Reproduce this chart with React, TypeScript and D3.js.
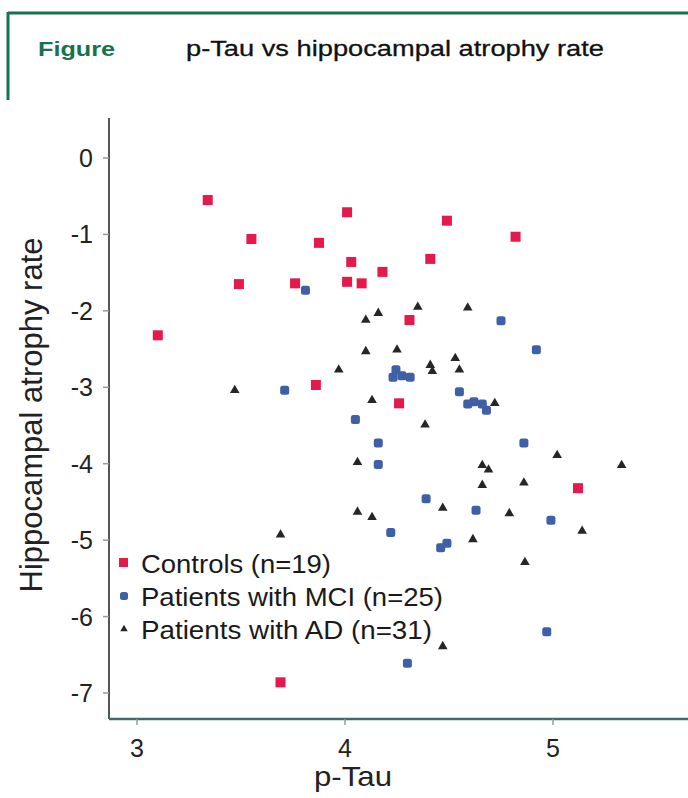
import React from "react";
import * as d3 from "d3";

const controlsX = [3.34, 3.10, 3.55, 3.49, 3.76, 3.875, 4.01, 4.01, 4.03, 4.08, 4.18, 4.49, 4.82, 4.41, 4.31, 3.86, 4.26, 5.12, 3.69];
const controlsY = [-0.55, -2.32, -1.06, -1.65, -1.64, -1.11, -0.71, -1.62, -1.36, -1.64, -1.49, -0.82, -1.03, -1.32, -2.12, -2.97, -3.21, -4.32, -6.86];

const mciX = [3.81, 4.75, 4.92, 4.245, 4.274, 4.313, 4.231, 3.71, 4.55, 4.62, 4.66, 4.68, 4.59, 4.05, 4.16, 4.16, 4.86, 4.39, 4.22, 4.63, 4.99, 4.46, 4.49, 4.97, 4.30];
const mciY = [-1.73, -2.13, -2.51, -2.77, -2.85, -2.87, -2.87, -3.04, -3.06, -3.19, -3.22, -3.30, -3.22, -3.42, -3.73, -4.01, -3.73, -4.46, -4.90, -4.61, -4.74, -5.10, -5.04, -6.20, -6.61];

const adX = [3.97, 4.10, 4.16, 4.35, 4.59, 4.10, 4.25, 4.41, 4.42, 4.53, 4.55, 4.72, 4.13, 3.47, 3.69, 4.385, 4.06, 4.66, 4.69, 4.66, 4.86, 5.02, 5.33, 4.06, 4.13, 4.47, 4.79, 5.14, 4.615, 4.865, 4.47];
const adY = [-2.77, -2.12, -2.03, -1.95, -1.96, -2.53, -2.51, -2.71, -2.79, -2.62, -2.77, -3.21, -3.17, -3.04, -4.93, -3.49, -3.98, -4.02, -4.08, -4.28, -4.25, -3.89, -4.02, -4.63, -4.70, -4.58, -4.65, -4.88, -4.99, -5.29, -6.39];

const xTicks = [3, 4, 5];
const yTicks = [0, -1, -2, -3, -4, -5, -6, -7];
const legendLabels = ["Controls (n=19)", "Patients with MCI (n=25)", "Patients with AD (n=31)"];

const RED = "#e5194b";
const BLUE = "#3f5fa6";
const BLACK = "#262626";
const GREEN = "#17724f";

export default function App() {
  const left = 109, right = 688, top = 118, bottom = 719;
  const x = d3.scaleLinear().domain([3, 5]).range([137, 553]);
  const y = d3.scaleLinear().domain([0, -7]).range([158, 693]);
  const tri = d3.symbol().type(d3.symbolTriangle).size(40)();

  const legendWidths = [190, 302, 291];

  return (
    <svg width={688} height={798} style={{ position: "absolute", left: 0, top: 0, background: "#fff" }}
      fontFamily="Liberation Sans, Arial, sans-serif">
      <rect x={0} y={0} width={688} height={798} fill="#fff" />
      {/* header */}
      <line x1={8} x2={688} y1={13} y2={13} stroke={GREEN} strokeWidth={3} />
      <line x1={8} x2={8} y1={12} y2={100} stroke={GREEN} strokeWidth={3} />
      <text x={38} y={56} fontSize={21} fontWeight="bold" fill={GREEN} textLength={77} lengthAdjust="spacingAndGlyphs">Figure</text>
      <text x={186} y={56} fontSize={22} fill="#111" stroke="#111" strokeWidth={0.3} textLength={418} lengthAdjust="spacingAndGlyphs">p-Tau vs hippocampal atrophy rate</text>

      {/* axes */}
      <line x1={left} x2={left} y1={top} y2={bottom} stroke="#555" strokeWidth={2} />
      <line x1={left} x2={right} y1={bottom} y2={bottom} stroke="#3f6a68" strokeWidth={2.5} />
      {yTicks.map((t) => (
        <g key={"y" + t}>
          <line x1={103} x2={left} y1={y(t)} y2={y(t)} stroke="#999" strokeWidth={1.5} />
          <text x={93} y={y(t) + 9} fontSize={25} textAnchor="end" fill="#222">
            {t < 0 ? "-" + Math.abs(t) : String(t)}
          </text>
        </g>
      ))}
      {xTicks.map((t) => (
        <g key={"x" + t}>
          <line x1={x(t)} x2={x(t)} y1={bottom} y2={bottom + 6} stroke="#999" strokeWidth={1.5} />
          <text x={x(t)} y={757} fontSize={25} textAnchor="middle" fill="#222">{t}</text>
        </g>
      ))}
      <text x={353} y={786} fontSize={28} textAnchor="middle" fill="#222" textLength={78} lengthAdjust="spacingAndGlyphs">p-Tau</text>
      <text transform={`translate(42,415) rotate(-90)`} fontSize={31} textAnchor="middle" fill="#222"
        textLength={355} lengthAdjust="spacingAndGlyphs">Hippocampal atrophy rate</text>

      {/* points */}
      {adX.map((v, i) => (
        <path key={"a" + i} d={tri} transform={`translate(${x(v)},${y(adY[i])})`} fill={BLACK} />
      ))}
      {mciX.map((v, i) => (
        <rect key={"m" + i} x={x(v) - 4.5} y={y(mciY[i]) - 4.5} width={9} height={9} rx={2.5} fill={BLUE} />
      ))}
      {controlsX.map((v, i) => (
        <rect key={"c" + i} x={x(v) - 5} y={y(controlsY[i]) - 5} width={10} height={10} fill={RED} />
      ))}

      {/* legend */}
      {legendLabels.map((l, i) => (
        <g key={l}>
          {i === 0 && <rect x={119} y={558} width={9} height={9} fill={RED} />}
          {i === 1 && <rect x={120} y={592} width={8} height={8} rx={2.5} fill={BLUE} />}
          {i === 2 && <path d={d3.symbol().type(d3.symbolTriangle).size(24)()} transform={`translate(124,629)`} fill={BLACK} />}
          <text x={141} y={573 + i * 33} fontSize={26} fill="#1a1a1a" textLength={legendWidths[i]} lengthAdjust="spacingAndGlyphs">{l}</text>
        </g>
      ))}
    </svg>
  );
}
